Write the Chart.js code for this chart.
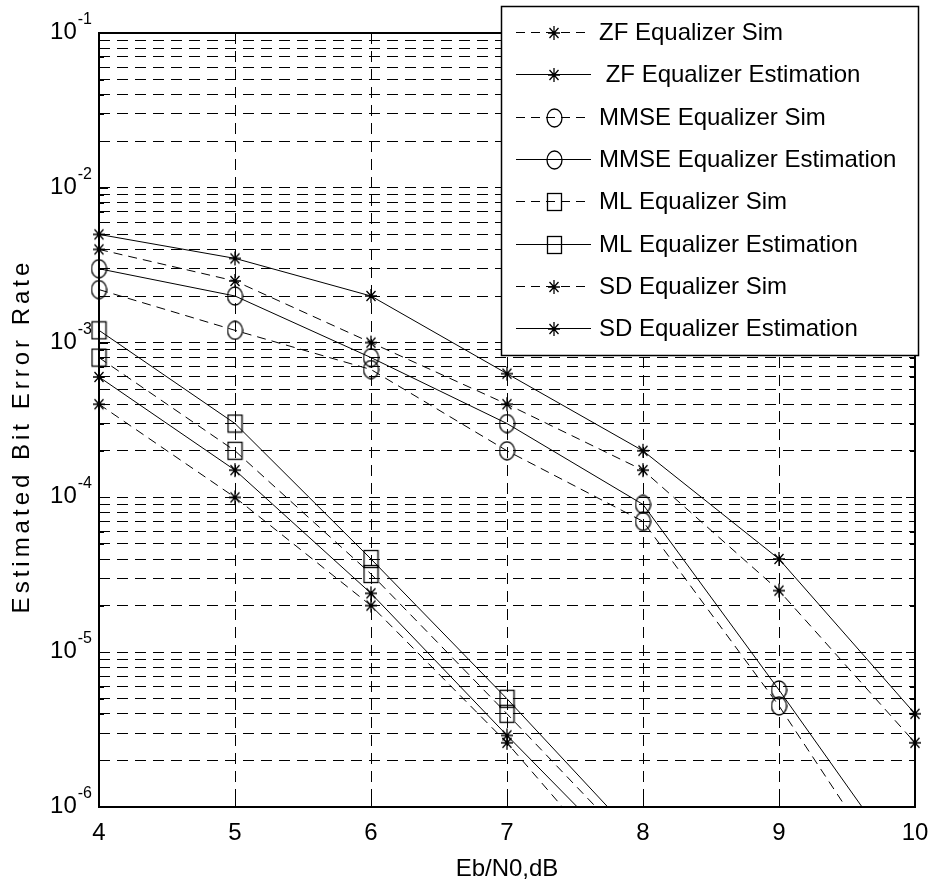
<!DOCTYPE html>
<html lang="en">
<head>
    <meta charset="UTF-8">
    <title>Estimated Bit Error Rate vs Eb/N0</title>
    <style>
        * { margin: 0; padding: 0; box-sizing: border-box; }
        body { background: #fff; }
        .wrap { width: 932px; height: 888px; }
    </style>
</head>
<body>
    <div class="wrap"><canvas id="berChart" width="932" height="888"></canvas></div>

    <script src="https://cdn.jsdelivr.net/npm/chart.js@4.4.0/dist/chart.umd.min.js"></script>
    <script>
        // Data
        const ebN0 = [4, 5, 6, 7, 8, 9, 10];
        const zfSim   = [4e-3, 2.5e-3, 1e-3, 4e-4, 1.5e-4, 2.5e-5, 2.6e-6];
        const zfEst   = [5e-3, 3.5e-3, 2e-3, 6.3e-4, 2e-4, 4e-5, 4e-6];
        const mmseSim = [2.2e-3, 1.2e-3, 6.7e-4, 2e-4, 7e-5, 4.5e-6, 2.1e-7];
        const mmseEst = [3e-3, 2e-3, 8e-4, 3e-4, 9e-5, 5.7e-6, 3.3e-7];
        const mlSim   = [8e-4, 2e-4, 3.2e-5, 4e-6, 4.8e-7, null, null];
        const mlEst   = [1.2e-3, 3e-4, 4e-5, 5e-6, 5.7e-7, null, null];
        const sdSim   = [4e-4, 1e-4, 2e-5, 2.6e-6, 2.5e-7, null, null];
        const sdEst   = [6e-4, 1.5e-4, 2.4e-5, 2.9e-6, 3.7e-7, null, null];

        const seriesLabels = [
            'ZF Equalizer Sim', ' ZF Equalizer Estimation',
            'MMSE Equalizer Sim', 'MMSE Equalizer Estimation',
            'ML Equalizer Sim', 'ML Equalizer Estimation',
            'SD Equalizer Sim', 'SD Equalizer Estimation'
        ];
        const yDecades = [-1, -2, -3, -4, -5, -6];
        const xTicks = [4, 5, 6, 7, 8, 9, 10];

        const FONT = "'Liberation Sans', Arial, sans-serif";
        const DASH = [9, 6];
        const GRID_DASH = [11, 7];

        // MATLAB style markers as small canvases
        function makeMarker(w, h, draw) {
            const c = document.createElement('canvas');
            c.width = w; c.height = h;
            const g = c.getContext('2d');
            g.strokeStyle = '#000';
            g.lineWidth = 1.3;
            draw(g, w, h);
            return c;
        }
        const starMark = makeMarker(14, 16, (g, w, h) => {
            const cx = w / 2, cy = h / 2;
            g.beginPath();
            g.moveTo(cx, 1); g.lineTo(cx, h - 1);
            g.moveTo(1, cy); g.lineTo(w - 1, cy);
            g.moveTo(2.5, 3); g.lineTo(w - 2.5, h - 3);
            g.moveTo(w - 2.5, 3); g.lineTo(2.5, h - 3);
            g.stroke();
        });
        const circleMark = makeMarker(17, 20, (g, w, h) => {
            g.beginPath();
            g.ellipse(w / 2, h / 2, w / 2 - 1, h / 2 - 1, 0, 0, Math.PI * 2);
            g.stroke();
        });
        const squareMark = makeMarker(17, 20, (g, w, h) => {
            g.strokeRect(1.5, 1.5, w - 3, h - 3);
        });

        function series(label, data, marker, dashed) {
            return {
                label: label,
                data: data.map((v, i) => ({ x: ebN0[i], y: v })),
                borderColor: '#000',
                backgroundColor: 'transparent',
                borderWidth: 1,
                borderDash: dashed ? DASH : [],
                pointStyle: marker,
                pointRadius: 8,
                pointHoverRadius: 8,
                tension: 0,
                fill: false,
                clip: { left: 20, right: 20, top: 20, bottom: 0 }
            };
        }

        const datasets = [
            series(seriesLabels[0], zfSim, starMark, true),
            series(seriesLabels[1], zfEst, starMark, false),
            series(seriesLabels[2], mmseSim, circleMark, true),
            series(seriesLabels[3], mmseEst, circleMark, false),
            series(seriesLabels[4], mlSim, squareMark, true),
            series(seriesLabels[5], mlEst, squareMark, false),
            series(seriesLabels[6], sdSim, starMark, true),
            series(seriesLabels[7], sdEst, starMark, false)
        ];

        // Axes box, inward tick marks, y tick labels with exponents, legend
        const matlabPlugin = {
            id: 'matlabPlugin',
            afterDatasetsDraw(chart) {
                const ctx = chart.ctx;
                const a = chart.chartArea;
                const ys = chart.scales.y;
                const xs = chart.scales.x;
                ctx.save();
                ctx.strokeStyle = '#000';
                ctx.lineWidth = 1;
                ctx.setLineDash([]);
                ctx.beginPath();
                ys.ticks.forEach(t => {
                    const py = Math.round(ys.getPixelForValue(t.value)) + 0.5;
                    const len = t.major ? 9 : 5;
                    ctx.moveTo(a.left, py); ctx.lineTo(a.left + len, py);
                    ctx.moveTo(a.right, py); ctx.lineTo(a.right - len, py);
                });
                xs.ticks.forEach(t => {
                    const px = Math.round(xs.getPixelForValue(t.value)) + 0.5;
                    ctx.moveTo(px, a.bottom); ctx.lineTo(px, a.bottom - 9);
                    ctx.moveTo(px, a.top); ctx.lineTo(px, a.top + 9);
                });
                ctx.stroke();
                ctx.lineWidth = 2;
                ctx.strokeRect(Math.round(a.left), Math.round(a.top),
                    Math.round(a.right - a.left), Math.round(a.bottom - a.top));
                ctx.restore();
            },
            afterDraw(chart) {
                const ctx = chart.ctx;
                const a = chart.chartArea;
                const ys = chart.scales.y;
                ctx.save();
                ctx.fillStyle = '#000';
                ctx.textAlign = 'right';
                ctx.textBaseline = 'alphabetic';
                yDecades.forEach(p => {
                    const py = ys.getPixelForValue(Math.pow(10, p));
                    const exp = String(p);
                    ctx.font = '16px ' + FONT;
                    const ew = ctx.measureText(exp).width;
                    ctx.fillText(exp, a.left - 7, py - 9);
                    ctx.font = '24px ' + FONT;
                    ctx.fillText('10', a.left - 8 - ew, py + 6);
                });

                // y axis title with spread letters
                ctx.save();
                ctx.translate(22, (a.top + a.bottom) / 2 + 16);
                ctx.rotate(-Math.PI / 2);
                ctx.font = '24px ' + FONT;
                ctx.letterSpacing = '4px';
                ctx.textAlign = 'center';
                ctx.textBaseline = 'middle';
                ctx.fillText('Estimated Bit Error Rate', 0, 0);
                ctx.restore();

                // legend
                const lx = 501, ly = 6, lw = 417, lh = 349;
                ctx.fillStyle = '#fff';
                ctx.fillRect(lx, ly, lw, lh);
                ctx.strokeStyle = '#000';
                ctx.lineWidth = 1.5;
                ctx.strokeRect(lx + 0.5, ly + 0.5, lw, lh);
                ctx.lineWidth = 1;
                ctx.font = '24px ' + FONT;
                ctx.textAlign = 'left';
                ctx.textBaseline = 'middle';
                chart.data.datasets.forEach((ds, i) => {
                    const ry = Math.round(ly + 26 + i * 42.3) + 0.5;
                    ctx.setLineDash(ds.borderDash);
                    ctx.strokeStyle = '#000';
                    ctx.beginPath();
                    ctx.moveTo(516, ry); ctx.lineTo(591, ry);
                    ctx.stroke();
                    ctx.setLineDash([]);
                    const m = ds.pointStyle;
                    ctx.drawImage(m, 554 - Math.floor(m.width / 2), Math.round(ry - m.height / 2));
                    ctx.fillStyle = '#000';
                    ctx.fillText(ds.label, 599, ry + 1);
                });
                ctx.restore();
            }
        };

        new Chart(document.getElementById('berChart'), {
            type: 'line',
            data: { datasets: datasets },
            options: {
                responsive: false,
                animation: false,
                devicePixelRatio: 1,
                layout: { padding: { left: 99, right: 17, top: 33, bottom: 0 } },
                plugins: {
                    legend: { display: false },
                    tooltip: { enabled: false }
                },
                scales: {
                    x: {
                        type: 'linear',
                        min: 4,
                        max: 10,
                        afterBuildTicks: axis => {
                            axis.ticks = xTicks.map(v => ({ value: v }));
                        },
                        afterFit: axis => {
                            axis.height = 81;
                            axis.paddingLeft = 0;
                            axis.paddingRight = 0;
                        },
                        ticks: {
                            color: '#000',
                            font: { family: FONT, size: 24 },
                            padding: 12,
                            maxRotation: 0
                        },
                        grid: { color: '#000', lineWidth: 1, drawTicks: false },
                        border: { display: false, dash: GRID_DASH },
                        title: {
                            display: true,
                            text: 'Eb/N0,dB',
                            color: '#000',
                            font: { family: FONT, size: 24 },
                            padding: { top: 4, bottom: 4 }
                        }
                    },
                    y: {
                        type: 'logarithmic',
                        min: 1e-6,
                        max: 1e-1,
                        afterBuildTicks: axis => {
                            const t = [];
                            for (let p = -6; p <= -1; p++) {
                                for (let k = 1; k <= 9; k++) {
                                    const v = k * Math.pow(10, p);
                                    if (v > 1.0001e-1) break;
                                    t.push({ value: v, major: k === 1 });
                                }
                            }
                            axis.ticks = t;
                        },
                        afterFit: axis => {
                            axis.width = 0;
                            axis.paddingTop = 0;
                            axis.paddingBottom = 0;
                        },
                        ticks: { display: false },
                        grid: { color: '#000', lineWidth: 1, drawTicks: false },
                        border: { display: false, dash: GRID_DASH }
                    }
                }
            },
            plugins: [matlabPlugin]
        });
    </script>
</body>
</html>
